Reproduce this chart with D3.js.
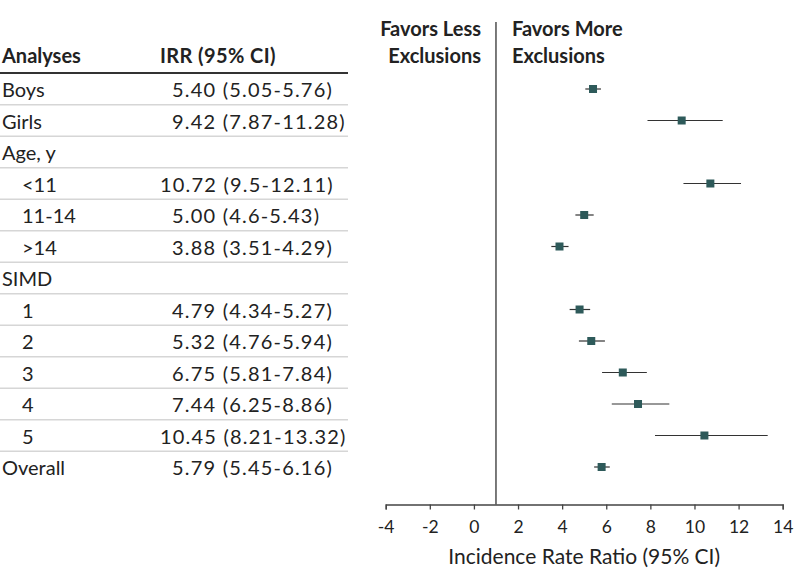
<!DOCTYPE html>
<html><head><meta charset="utf-8">
<script src="https://cdn.jsdelivr.net/npm/d3@7"></script>
<style>
html,body{margin:0;padding:0;background:#fff;}
svg{display:block;font-family:Lato,"Open Sans",sans-serif;}
</style></head>
<body><svg id="c" width="798" height="585"></svg>
<script>
const labels = ["Boys","Girls","Age, y","<11","11-14",">14","SIMD","1","2","3","4","5","Overall"];
const indent = [0,0,0,1,1,1,0,1,1,1,1,1,0];
const est  = [5.40, 9.42, null, 10.72, 5.00, 3.88, null, 4.79, 5.32, 6.75, 7.44, 10.45, 5.79];
const lo   = [5.05, 7.87, null, 9.5, 4.6, 3.51, null, 4.34, 4.76, 5.81, 6.25, 8.21, 5.45];
const hi   = [5.76, 11.28, null, 12.11, 5.43, 4.29, null, 5.27, 5.94, 7.84, 8.86, 13.32, 6.16];
const ciText = ["5.40 (5.05-5.76)","9.42 (7.87-11.28)","","10.72 (9.5-12.11)","5.00 (4.6-5.43)","3.88 (3.51-4.29)","","4.79 (4.34-5.27)","5.32 (4.76-5.94)","6.75 (5.81-7.84)","7.44 (6.25-8.86)","10.45 (8.21-13.32)","5.79 (5.45-6.16)"];
const xTicks = [-4,-2,0,2,4,6,8,10,12,14];
const refValue = 1;

const svg = d3.select("#c");
const ink = "#222";
const fs = 20;

const x = d3.scaleLinear().domain([-4,14]).range([385.7,782.7]);
const y = d3.scalePoint().domain(d3.range(labels.length)).range([89,467]);
const rowH = y.step();

// table header
svg.append("text").attr("x",2).attr("y",63).attr("font-size",fs).attr("font-weight","bold").attr("fill",ink).text("Analyses");
svg.append("text").attr("x",160).attr("y",63).attr("font-size",fs).attr("font-weight","bold").attr("letter-spacing",0.4).attr("fill",ink).text("IRR (95% CI)");
svg.append("line").attr("x1",0).attr("x2",348).attr("y1",73).attr("y2",73).attr("stroke","#333").attr("stroke-width",2);

// row separators
labels.forEach((l,i)=>{
  if(i<labels.length-1){
    svg.append("line").attr("x1",0).attr("x2",348)
      .attr("y1",y(i)+rowH/2).attr("y2",y(i)+rowH/2)
      .attr("stroke","#d6d6d6").attr("stroke-width",1.3);
  }
});

// row labels and values
const rows = svg.append("g");
labels.forEach((l,i)=>{
  rows.append("text").attr("x",indent[i]?22:2).attr("y",y(i)+8)
    .attr("font-size",fs).attr("fill",ink).text(l);
  if(ciText[i]){
    rows.append("text").attr("x",est[i]>=10?160:172).attr("y",y(i)+8)
      .attr("font-size",fs).attr("letter-spacing",1.2).attr("fill",ink).text(ciText[i]);
  }
});

// favors labels
const fl = svg.append("g").attr("font-size",fs).attr("font-weight","bold").attr("fill",ink);
fl.append("text").attr("x",x(refValue)-15).attr("y",36).attr("text-anchor","end").text("Favors Less");
fl.append("text").attr("x",x(refValue)-15).attr("y",63).attr("text-anchor","end").text("Exclusions");
fl.append("text").attr("x",x(refValue)+16).attr("y",36).text("Favors More");
fl.append("text").attr("x",x(refValue)+16).attr("y",63).text("Exclusions");

// reference line
svg.append("line").attr("x1",x(refValue)).attr("x2",x(refValue)).attr("y1",22).attr("y2",504.5)
  .attr("stroke","#333").attr("stroke-width",1.3);

// axis
const ax = svg.append("g").attr("transform","translate(0,504.5)")
  .call(d3.axisBottom(x).tickValues(xTicks).tickSize(5).tickPadding(11).tickFormat(d=>d<0?"-"+Math.abs(d):d));
ax.select(".domain").attr("stroke","#444").attr("stroke-width",1.3);
ax.selectAll(".tick line").attr("stroke","#444").attr("stroke-width",1.3);
ax.selectAll(".tick text").attr("font-size",17.5).attr("fill",ink).attr("font-family","Lato,'Open Sans',sans-serif");
svg.append("text").attr("x",(x(-4)+x(14))/2).attr("y",564).attr("text-anchor","middle")
  .attr("font-size",21).attr("fill",ink).text("Incidence Rate Ratio (95% CI)");

// CI lines and markers
const pts = d3.range(labels.length).filter(i=>est[i]!=null);
svg.append("g").selectAll("line").data(pts).join("line")
  .attr("x1",i=>x(lo[i])).attr("x2",i=>x(hi[i])).attr("y1",i=>y(i)).attr("y2",i=>y(i))
  .attr("stroke","#333").attr("stroke-width",1.2);
const ms = 8;
svg.append("g").selectAll("rect").data(pts).join("rect")
  .attr("x",i=>x(est[i])-ms/2).attr("y",i=>y(i)-ms/2).attr("width",ms).attr("height",ms)
  .attr("fill","#2e5a5a");
</script></body></html>
